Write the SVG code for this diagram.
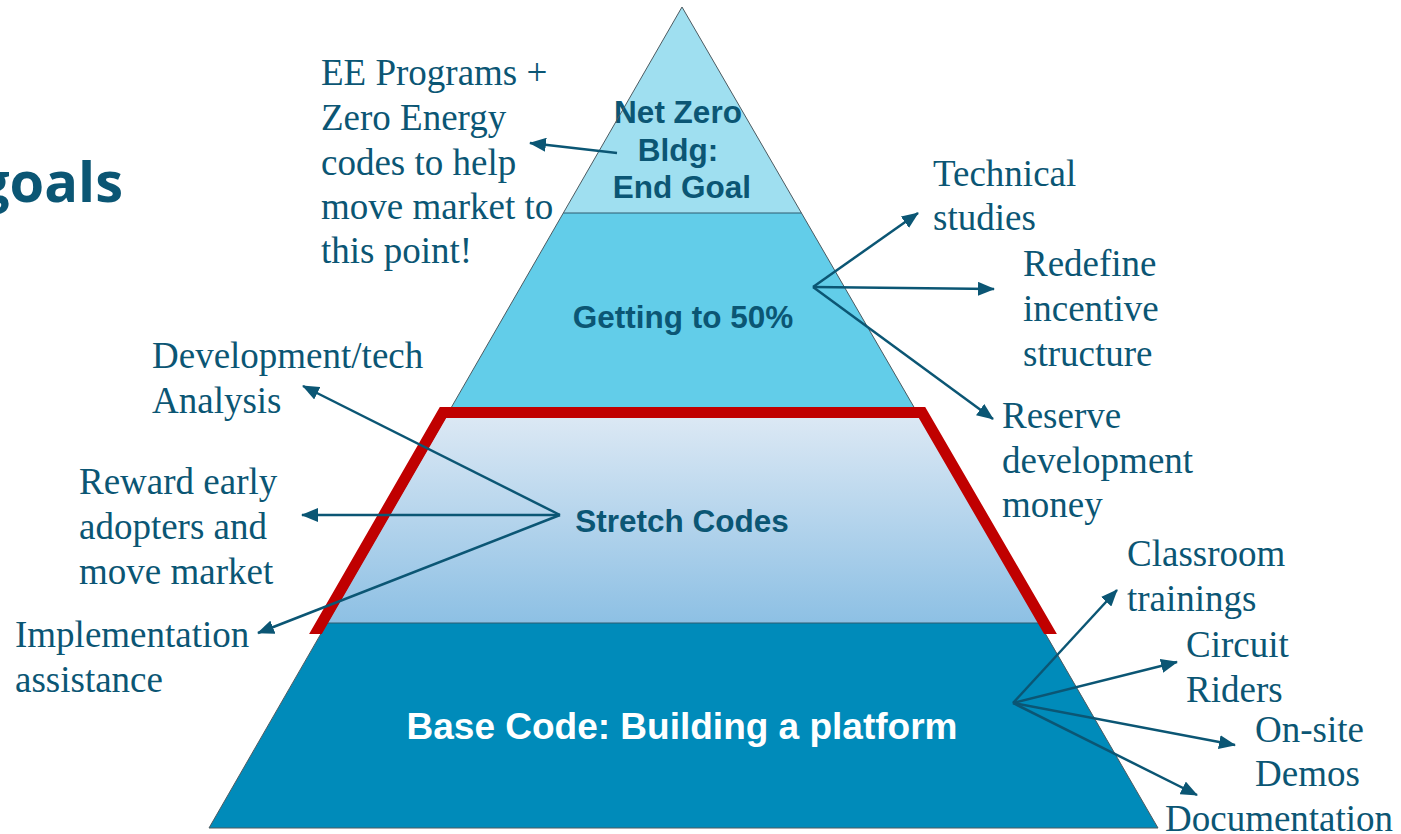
<svg xmlns="http://www.w3.org/2000/svg" width="1401" height="834" viewBox="0 0 1401 834">
<defs>
<linearGradient id="gStretch" x1="0" y1="0" x2="0" y2="1">
<stop offset="0" stop-color="#dfeaf5"/>
<stop offset="1" stop-color="#8dc0e4"/>
</linearGradient>
<marker id="ah" markerUnits="userSpaceOnUse" markerWidth="17" markerHeight="14" refX="16" refY="7" orient="auto">
<path d="M0,0 L17,7 L0,14 z" fill="#0b5674"/>
</marker>
</defs>
<style>
.lbl{font-family:"Liberation Serif","Times New Roman",serif;font-size:37px;fill:#0b5674;}
.band{font-family:"Liberation Sans",Arial,sans-serif;font-weight:bold;font-size:31.5px;fill:#0b5674;text-anchor:middle;}
.conn line{stroke:#0b5674;stroke-width:2.5;fill:none;marker-end:url(#ah);}
.div{stroke:#2f5c70;stroke-width:1.2;}
</style>
<rect width="1401" height="834" fill="#ffffff"/>
<text x="123" y="202" text-anchor="end" style="font-family:'Open Sans',sans-serif;font-weight:bold;font-size:56px;fill:#0b5674">goals</text>

<g id="pyramid">
<g id="band-netzero">
<polygon points="682,7 801.5,213 563.3,213" fill="#9fdff0"/>
<text class="band" x="678" y="123">Net Zero</text>
<text class="band" x="678" y="161">Bldg:</text>
<text class="band" x="682" y="198">End Goal</text>
</g>
<g id="band-50">
<polygon points="563.3,213 801.5,213 914.6,408 451,408" fill="#62cde9"/>
<text class="band" x="683" y="328">Getting to 50%</text>
</g>
<g id="band-stretch">
<polygon points="451,408 914.6,408 1039.3,623 327.2,623" fill="url(#gStretch)"/>
<text class="band" x="682" y="532">Stretch Codes</text>
</g>
<g id="band-base">
<polygon points="327.2,623 1039.3,623 1158,828 209,828" fill="#008bba"/>
<text class="band" x="682" y="739" style="fill:#ffffff;font-size:37px">Base Code: Building a platform</text>
</g>
<line class="div" x1="563.3" y1="213" x2="801.5" y2="213"/>
<line class="div" x1="327.2" y1="623" x2="1039.3" y2="623"/>
<polygon points="682,7 1158,828 209,828" fill="none" stroke="#4d5a60" stroke-width="1"/>
<polygon id="red-outline" points="309.1,634 439.8,407 925.2,407 1056.9,634 1044.1,634 918.8,418 446.2,418 321.8,634" fill="#c00000"/>
</g>

<g id="lbl-ee"><text class="lbl"><tspan x="321" y="85">EE Programs +</tspan><tspan x="321" y="130">Zero Energy</tspan><tspan x="321" y="175">codes to help</tspan><tspan x="321" y="219">move market to</tspan><tspan x="321" y="263">this point!</tspan></text></g>
<g id="lbl-tech"><text class="lbl"><tspan x="933" y="186">Technical</tspan><tspan x="933" y="230">studies</tspan></text></g>
<g id="lbl-redefine"><text class="lbl"><tspan x="1023" y="276">Redefine</tspan><tspan x="1023" y="321">incentive</tspan><tspan x="1023" y="366">structure</tspan></text></g>
<g id="lbl-reserve"><text class="lbl"><tspan x="1002" y="428">Reserve</tspan><tspan x="1002" y="473">development</tspan><tspan x="1002" y="517">money</tspan></text></g>
<g id="lbl-dev"><text class="lbl"><tspan x="152" y="368">Development/tech</tspan><tspan x="152" y="413">Analysis</tspan></text></g>
<g id="lbl-reward"><text class="lbl"><tspan x="79" y="494">Reward early</tspan><tspan x="79" y="539">adopters and</tspan><tspan x="79" y="584">move market</tspan></text></g>
<g id="lbl-impl"><text class="lbl"><tspan x="15" y="647">Implementation</tspan><tspan x="15" y="692">assistance</tspan></text></g>
<g id="lbl-class"><text class="lbl"><tspan x="1127" y="566">Classroom</tspan><tspan x="1127" y="611">trainings</tspan></text></g>
<g id="lbl-circuit"><text class="lbl"><tspan x="1186" y="657">Circuit</tspan><tspan x="1186" y="702">Riders</tspan></text></g>
<g id="lbl-onsite"><text class="lbl"><tspan x="1255" y="742">On-site</tspan><tspan x="1255" y="786">Demos</tspan></text></g>
<g id="lbl-doc"><text class="lbl"><tspan x="1165" y="831">Documentation</tspan></text></g>

<g id="connectors" class="conn">
<line x1="617" y1="153" x2="530" y2="143"/>
<line x1="813" y1="287" x2="918" y2="213"/>
<line x1="813" y1="287" x2="994" y2="289"/>
<line x1="813" y1="287" x2="993" y2="419"/>
<line x1="560" y1="515" x2="303" y2="386"/>
<line x1="560" y1="515" x2="302" y2="515"/>
<line x1="560" y1="515" x2="258" y2="633"/>
<line x1="1013" y1="703" x2="1117" y2="590"/>
<line x1="1013" y1="703" x2="1177" y2="662"/>
<line x1="1013" y1="703" x2="1235" y2="745"/>
<line x1="1013" y1="703" x2="1197" y2="795"/>
</g>
</svg>
